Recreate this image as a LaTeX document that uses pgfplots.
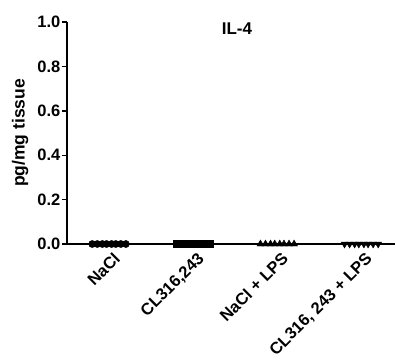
\documentclass[border=0pt]{standalone}
\usepackage{pgfplots}
\pgfplotsset{compat=1.18}
\usepackage{fontspec}
\setmainfont{Liberation Sans}
\begin{document}
\begin{tikzpicture}[x=1pt,y=1pt]
\path[use as bounding box] (-67,-116) rectangle (329,244);
\begin{axis}[
  at={(0,0)}, anchor=south west,
  scale only axis, width=328pt, height=222pt,
  xmin=-0.5, xmax=3.4, ymin=0, ymax=1.0,
  axis x line=bottom, axis y line=left,
  axis line style={line width=1.6pt,-},
  xtick={0,1,2,3},
  xticklabels={NaCl, {CL316,243}, NaCl + LPS, {CL316, 243 + LPS}},
  x tick label style={rotate=45, anchor=north east, font=\fontsize{16.5}{16.5}\selectfont\bfseries, inner sep=1pt, yshift=-3pt, xshift=2pt},
  xtick style={draw=none},
  ytick={0,0.2,0.4,0.6,0.8,1.0},
  yticklabel style={/pgf/number format/fixed, /pgf/number format/fixed zerofill, /pgf/number format/precision=1, font=\fontsize{16.5}{16.5}\selectfont\bfseries, inner sep=1.5pt},
  /pgf/number format/assume math mode=true,
  ytick style={line width=1.4pt, black},
  major tick length=5pt,
  tick align=outside,
  ylabel={pg/mg tissue},
  ylabel style={font=\fontsize{17.5}{17.5}\selectfont\bfseries, yshift=4pt},
  title={IL-4},
  title style={font=\fontsize{17}{17}\selectfont\bfseries, at={(axis cs:1.52,0.945)}, anchor=center},
  clip=false,
]
\addplot[only marks, mark=*, mark size=3.6pt, black] coordinates {(-0.2,0) (-0.14,0) (-0.08,0) (-0.03,0) (0.03,0) (0.08,0) (0.14,0) (0.2,0)};
\addplot[only marks, mark=square*, mark size=3.6pt, black] coordinates {(0.8,0) (0.86,0) (0.92,0) (0.97,0) (1.03,0) (1.08,0) (1.14,0) (1.2,0)};
\addplot[only marks, mark=triangle*, mark size=4pt, black] coordinates {(1.8,0) (1.86,0) (1.92,0) (1.97,0) (2.03,0) (2.08,0) (2.14,0) (2.2,0)};
\addplot[only marks, mark=triangle*, mark options={rotate=180}, mark size=4pt, black] coordinates {(2.8,0) (2.86,0) (2.92,0) (2.97,0) (3.03,0) (3.08,0) (3.14,0) (3.2,0)};
\end{axis}
\end{tikzpicture}
\end{document}
